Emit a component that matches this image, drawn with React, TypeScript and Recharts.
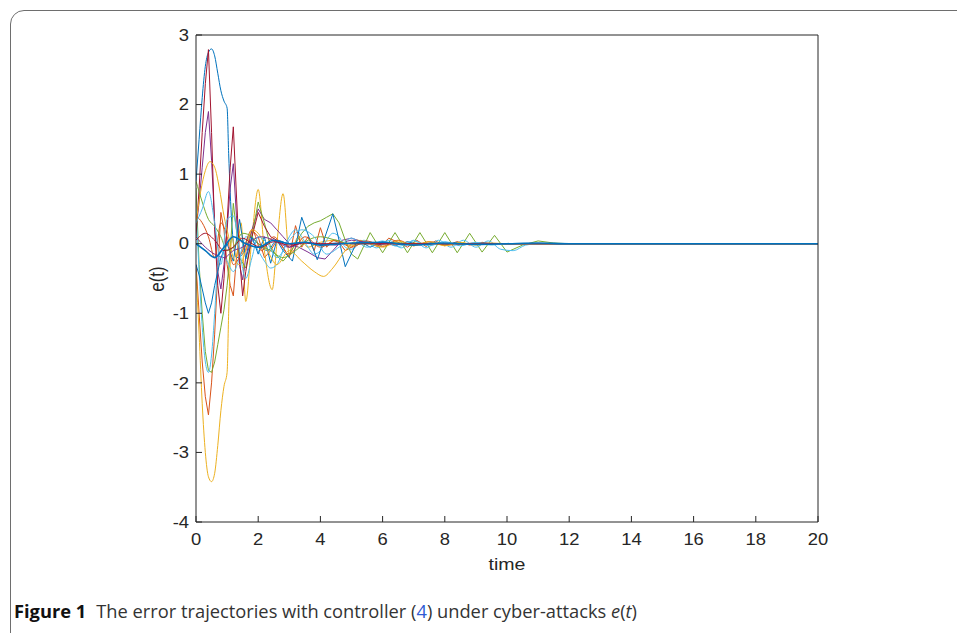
import { LineChart, Line, XAxis, YAxis } from "recharts";

// MATLAB default colour order
const BLUE = "#0072BD";
const ORANGE = "#D95319";
const YELLOW = "#EDB120";
const PURPLE = "#7E2F8E";
const GREEN = "#77AC30";
const CYAN = "#4DBEEE";
const DARKRED = "#A2142F";

const xTicks = [0, 2, 4, 6, 8, 10, 12, 14, 16, 18, 20];
const yTicks = [-4, -3, -2, -1, 0, 1, 2, 3];

// one time array and one value array per trajectory
const t1 = [0, 0.1, 0.2, 0.3, 0.4, 0.5, 0.6, 0.7, 0.8, 0.9, 1.0, 1.05, 1.15, 1.3, 1.5, 1.7, 2.0, 2.3, 2.6, 3.0, 3.5, 4.0, 4.5, 5.0, 6.0, 8.0, 20];
const v1 = [0.9, 1.5, 2.1, 2.55, 2.75, 2.8, 2.7, 2.45, 2.2, 2.05, 1.95, 1.3, 0.3, -0.2, -0.15, 0.1, 0.0, -0.1, 0.05, 0.0, 0.02, -0.02, 0.01, 0, 0, 0, 0];

const t2 = [0, 0.1, 0.2, 0.3, 0.4, 0.5, 0.6, 0.7, 0.8, 0.9, 1.0, 1.1, 1.2, 1.3, 1.4, 1.6, 1.8, 2.0, 2.2, 2.4, 2.6, 2.8, 3.0, 3.2, 3.4, 3.6, 3.8, 4.0, 4.2, 4.4, 4.6, 4.8, 5.0, 5.3, 5.6, 5.9, 6.2, 6.5, 6.8, 7.1, 7.4, 7.7, 8.0, 8.4, 8.8, 9.2, 9.6, 10, 11, 12, 20];
const v2 = [-0.3, -1.0, -1.7, -2.2, -2.46, -2.0, -1.3, -0.4, 0.45, 0.2, -0.3, -0.6, -0.75, -0.2, 0.1, -0.1, 0.2, 0.1, -0.2, -0.1, 0.05, -0.05, -0.2, 0.26, -0.05, 0.1, -0.1, 0.23, -0.05, 0.05, 0.02, -0.1, -0.05, 0.05, 0.0, -0.05, 0.08, 0.02, -0.05, 0.05, -0.04, 0.04, -0.03, 0.03, -0.02, 0.02, -0.01, 0, 0, 0, 0];

const t3 = [0, 0.1, 0.2, 0.3, 0.4, 0.5, 0.6, 0.7, 0.8, 0.9, 1.0, 1.05, 1.15, 1.3, 1.45, 1.6, 1.8, 2.0, 2.2, 2.45, 2.6, 2.8, 3.0, 3.3, 3.6, 4.0, 4.5, 5.0, 5.5, 6.0, 7.0, 8.0, 10, 20];
const v3 = [-0.4, -1.3, -2.3, -3.0, -3.35, -3.42, -3.3, -2.9, -2.4, -2.05, -1.85, -1.0, 0.1, -0.2, 0.3, -0.83, 0.1, 0.78, -0.1, -0.66, 0.0, 0.72, -0.15, 0.1, -0.05, 0.02, 0.05, -0.03, 0.02, -0.02, 0.01, 0, 0, 0];

const t4 = [0, 0.1, 0.2, 0.3, 0.4, 0.5, 0.6, 0.7, 0.8, 0.9, 1.0, 1.1, 1.2, 1.3, 1.4, 1.5, 1.6, 1.8, 2.0, 2.2, 2.4, 2.6, 2.8, 3.0, 3.3, 3.6, 3.9, 4.15, 4.4, 4.7, 5.0, 5.4, 5.8, 6.2, 7, 8, 9, 10, 12, 20];
const v4 = [0.2, 0.6, 1.1, 1.6, 1.9, 1.2, 0.3, -0.4, -0.65, -0.3, 0.2, 0.8, 1.15, 0.4, -0.3, -0.52, -0.2, 0.2, 0.5, 0.35, 0.3, 0.2, 0.1, 0.0, -0.05, -0.12, -0.2, -0.22, -0.1, 0.05, 0.08, 0.02, -0.02, 0.01, 0, 0, 0, 0, 0, 0];

const t5 = [0, 0.1, 0.2, 0.3, 0.4, 0.5, 0.6, 0.7, 0.8, 0.9, 1.0, 1.1, 1.2, 1.3, 1.4, 1.6, 1.8, 2.0, 2.2, 2.4, 2.6, 2.8, 3.0, 3.2, 3.4, 3.6, 3.8, 4.0, 4.2, 4.4, 4.6, 4.8, 5.0, 5.2, 5.6, 6.0, 6.4, 6.8, 7.2, 7.6, 8.0, 8.4, 8.8, 9.2, 9.6, 10.0, 10.5, 11.0, 11.5, 12, 13, 20];
const v5 = [0.8, -0.3, -1.0, -1.55, -1.82, -1.85, -1.7, -1.45, -1.2, -0.95, -0.6, -0.1, 0.58, 0.2, -0.2, -0.35, 0.1, 0.6, 0.3, -0.05, -0.18, -0.25, -0.15, 0.0, 0.15, 0.25, 0.3, 0.33, 0.38, 0.43, 0.3, 0.05, -0.15, -0.22, 0.16, -0.13, 0.16, -0.13, 0.16, -0.13, 0.16, -0.13, 0.15, -0.12, 0.12, -0.12, -0.02, 0.04, 0.01, 0, 0, 0];

const t6 = [0, 0.1, 0.2, 0.3, 0.4, 0.5, 0.6, 0.7, 0.8, 1.0, 1.2, 1.4, 1.6, 1.8, 2.0, 2.2, 2.4, 2.6, 2.8, 3.0, 3.2, 3.4, 3.6, 3.8, 4.0, 4.2, 4.4, 4.6, 4.8, 5.0, 5.4, 5.8, 6.2, 6.6, 7.0, 7.4, 7.8, 8.2, 8.6, 9.0, 9.4, 9.8, 10.2, 10.6, 11, 12, 20];
const v6 = [0.5, -0.4, -1.2, -1.7, -1.85, -1.6, -1.0, -0.3, -0.1, -0.25, -0.4, -0.2, 0.1, 0.05, -0.1, -0.25, -0.35, -0.3, -0.1, 0.1, 0.2, 0.1, -0.05, -0.15, -0.1, 0.05, 0.15, 0.1, -0.05, -0.08, 0.05, -0.06, 0.05, -0.06, 0.05, -0.06, 0.05, -0.05, 0.05, -0.05, 0.04, -0.08, -0.1, -0.02, 0.0, 0, 0];

const t7 = [0, 0.1, 0.2, 0.3, 0.4, 0.5, 0.6, 0.7, 0.8, 0.9, 1.0, 1.1, 1.2, 1.3, 1.4, 1.5, 1.6, 1.8, 2.0, 2.2, 2.4, 2.6, 2.8, 3.0, 3.4, 3.8, 4.2, 4.6, 5.0, 5.5, 6, 7, 8, 9, 10, 12, 20];
const v7 = [0.1, 0.8, 1.6, 2.3, 2.79, 1.6, 0.2, -0.6, -1.0, -0.5, 0.3, 1.1, 1.68, 0.7, -0.2, -0.75, -0.4, 0.1, 0.45, 0.25, 0.1, 0.05, 0.0, -0.05, 0.02, 0.0, -0.02, 0.01, 0, 0, 0, 0, 0, 0, 0, 0, 0];

const t8 = [0, 0.1, 0.2, 0.3, 0.4, 0.5, 0.6, 0.7, 0.8, 1.0, 1.2, 1.4, 1.6, 1.8, 2.0, 2.2, 2.4, 2.6, 2.8, 3.1, 3.4, 3.9, 4.4, 4.8, 5.2, 5.6, 6.0, 6.4, 6.8, 7.2, 7.6, 8, 8.4, 8.8, 9.2, 9.6, 10, 10.5, 11, 12, 20];
const v8 = [-0.3, -0.45, -0.65, -0.85, -1.0, -0.85, -0.6, -0.4, -0.2, 0.0, -0.25, 0.35, -0.22, 0.1, -0.15, 0.1, -0.28, 0.05, -0.1, -0.25, 0.38, -0.23, 0.43, -0.33, 0.05, -0.05, 0.03, -0.03, 0.03, -0.02, 0.02, -0.02, 0.02, -0.01, 0.01, 0, 0, 0, 0, 0, 0];

const t9 = [0, 0.2, 0.4, 0.6, 0.8, 1.0, 1.2, 1.5, 1.8, 2.1, 2.5, 3, 3.5, 4, 4.5, 5, 5.5, 6, 6.5, 7, 7.5, 8, 9, 10, 12, 20];
const v9 = [0.4, 0.3, 0.1, -0.2, 0.3, 0.1, -0.3, -0.1, 0.2, -0.1, 0.1, -0.15, 0.1, -0.05, 0.05, -0.05, 0.04, -0.04, 0.05, -0.03, 0.03, -0.02, 0.01, 0, 0, 0];

const t10 = [0, 0.15, 0.3, 0.45, 0.6, 0.75, 0.9, 1.05, 1.2, 1.4, 1.6, 1.8, 2.0, 2.3, 2.6, 3.0, 3.4, 3.8, 4.1, 4.4, 4.8, 5.2, 5.6, 6, 6.5, 7, 7.5, 8, 8.5, 9, 9.5, 10, 11, 12, 20];
const v10 = [0.3, 0.75, 1.05, 1.18, 1.1, 0.8, 0.4, 0.1, -0.2, -0.3, -0.1, 0.2, 0.15, -0.1, -0.3, -0.1, -0.25, -0.4, -0.47, -0.35, -0.1, 0.05, 0.0, -0.05, 0.04, -0.03, 0.03, -0.03, 0.02, -0.02, 0.01, 0, 0, 0, 0];

const t11 = [0, 0.3, 0.6, 0.9, 1.2, 1.5, 1.8, 2.1, 2.5, 3, 3.5, 4, 4.5, 5, 5.5, 6, 7, 8, 10, 20];
const v11 = [0.1, -0.05, -0.15, -0.2, -0.1, -0.05, 0.05, 0.1, 0.05, -0.05, 0.02, 0.0, -0.02, 0.05, 0.02, 0, 0, 0, 0, 0];

const t12 = [0, 0.2, 0.4, 0.6, 0.8, 1.0, 1.2, 1.5, 1.8, 2.0, 2.4, 2.8, 3.2, 3.6, 4, 4.5, 5, 5.5, 6, 7, 8, 10, 20];
const v12 = [0.9, 0.6, 0.35, 0.25, 0.1, -0.1, -0.05, 0.15, 0.1, 0.0, -0.1, -0.2, -0.1, 0.05, 0.1, 0.05, 0.0, 0.0, 0.02, 0, 0, 0, 0];

const t13 = [0, 0.2, 0.4, 0.6, 0.8, 1.0, 1.2, 1.4, 1.6, 1.8, 2.0, 2.3, 2.6, 3.0, 3.4, 3.8, 4.2, 4.6, 5.0, 5.5, 6, 6.5, 7, 7.5, 8, 8.5, 9, 9.5, 10, 11, 12, 20];
const v13 = [0.3, 0.5, 0.75, 0.3, -0.3, 0.35, 0.4, -0.1, -0.5, -0.2, 0.1, 0.0, -0.2, 0.05, 0.2, 0.1, -0.15, -0.05, 0.08, -0.05, 0.04, -0.04, 0.04, -0.03, 0.03, -0.03, 0.02, -0.02, 0.0, 0, 0, 0];

const t14 = [0, 0.3, 0.6, 0.9, 1.2, 1.5, 1.8, 2.1, 2.5, 3, 3.5, 4, 4.5, 5, 6, 8, 10, 20];
const v14 = [0.05, 0.15, 0.05, -0.1, -0.05, 0.08, 0.0, -0.05, 0.03, -0.02, 0.01, 0, 0, 0, 0, 0, 0, 0];

const t15 = [0, 0.3, 0.6, 0.9, 1.2, 1.6, 2.0, 2.5, 3, 3.5, 4, 5, 6, 7, 8, 9, 10, 11, 12, 20];
const v15 = [0.0, -0.1, -0.2, -0.05, 0.1, 0.0, -0.05, 0.05, 0.0, 0.02, -0.02, 0.01, 0.02, -0.02, 0.01, -0.01, 0.0, 0.01, 0, 0];

const zip = (t: number[], v: number[]) => t.map((x, i) => ({ t: x, v: v[i] }));

const series = [
  { id: "e1", data: zip(t1, v1), color: BLUE, curve: "monotone" },
  { id: "e2", data: zip(t2, v2), color: ORANGE, curve: "linear" },
  { id: "e3", data: zip(t3, v3), color: YELLOW, curve: "monotone" },
  { id: "e4", data: zip(t4, v4), color: PURPLE, curve: "linear" },
  { id: "e5", data: zip(t5, v5), color: GREEN, curve: "linear" },
  { id: "e6", data: zip(t6, v6), color: CYAN, curve: "monotone" },
  { id: "e7", data: zip(t7, v7), color: DARKRED, curve: "linear" },
  { id: "e8", data: zip(t8, v8), color: BLUE, curve: "linear" },
  { id: "e9", data: zip(t9, v9), color: ORANGE, curve: "monotone" },
  { id: "e10", data: zip(t10, v10), color: YELLOW, curve: "monotone" },
  { id: "e11", data: zip(t11, v11), color: PURPLE, curve: "monotone" },
  { id: "e12", data: zip(t12, v12), color: GREEN, curve: "monotone" },
  { id: "e13", data: zip(t13, v13), color: CYAN, curve: "monotone" },
  { id: "e14", data: zip(t14, v14), color: DARKRED, curve: "monotone" },
];
// drawn last, on the box axes, so it sits on top like in the original
const lastSeries = zip(t15, v15);

const AXIS = "#262626";
const FONT = "'Liberation Sans', Arial, Helvetica, sans-serif";
const STRETCH = 1.15; // the figure is a bit wider than tall

const XTick = (props: any) => {
  const { x, y, payload } = props;
  return (
    <text
      transform={`translate(${x},${y}) scale(${STRETCH},1)`}
      textAnchor="middle"
      dy="0.71em"
      fill={AXIS}
      style={{ fontSize: 16, fontFamily: FONT }}
    >
      {payload.value}
    </text>
  );
};

const YTick = (props: any) => {
  const { x, y, payload } = props;
  return (
    <text
      transform={`translate(${x},${y}) scale(${STRETCH},1)`}
      textAnchor="end"
      dy="0.36em"
      fill={AXIS}
      style={{ fontSize: 16, fontFamily: FONT }}
    >
      {payload.value}
    </text>
  );
};

export default function App() {
  return (
    <div style={{ position: "absolute", left: 0, top: 0, width: 957, height: 633, overflow: "hidden", background: "#fff" }}>
      <div
        style={{
          position: "absolute",
          left: 10,
          top: 10,
          width: 1000,
          height: 700,
          border: "1.5px solid #6e6e6e",
          borderTopLeftRadius: 14,
          boxSizing: "border-box",
        }}
      />
      <div style={{ position: "absolute", left: 0, top: 0 }}>
        <LineChart width={957} height={633} margin={{ top: 34, right: 138, bottom: 81, left: 156 }}>
          <XAxis
            dataKey="t"
            type="number"
            domain={[0, 20]}
            ticks={xTicks}
            allowDataOverflow
            height={30}
            stroke={AXIS}
            tickSize={-6}
            tickMargin={18}
            tick={<XTick />}
          />
          <XAxis
            xAxisId="top"
            orientation="top"
            dataKey="t"
            type="number"
            domain={[0, 20]}
            ticks={xTicks}
            allowDataOverflow
            height={1}
            stroke={AXIS}
            tickSize={-6}
            tick={false}
          />
          <YAxis
            type="number"
            domain={[-4, 3]}
            ticks={yTicks}
            allowDataOverflow
            width={40}
            stroke={AXIS}
            tickSize={-6}
            tickMargin={13}
            tick={<YTick />}
          />
          <YAxis
            yAxisId="right"
            orientation="right"
            type="number"
            domain={[-4, 3]}
            ticks={yTicks}
            allowDataOverflow
            width={1}
            stroke={AXIS}
            tickSize={-6}
            tick={false}
          />
          {series.map((s) => (
            <Line
              key={s.id}
              data={s.data}
              dataKey="v"
              type={s.curve as any}
              stroke={s.color}
              strokeWidth={1}
              dot={false}
              activeDot={false}
              isAnimationActive={false}
            />
          ))}
          <Line
            xAxisId="top"
            yAxisId="right"
            data={lastSeries}
            dataKey="v"
            type="monotone"
            stroke={BLUE}
            strokeWidth={1.6}
            dot={false}
            activeDot={false}
            isAnimationActive={false}
          />
        </LineChart>
      </div>
      <div
        style={{
          position: "absolute",
          left: 158,
          top: 279,
          transform: "translate(-50%, -50%) rotate(-90deg) scaleY(1.15)",
          fontFamily: FONT,
          fontSize: 17,
          color: AXIS,
          whiteSpace: "nowrap",
        }}
      >
        e(t)
      </div>
      <div
        style={{
          position: "absolute",
          left: 507,
          top: 565,
          transform: "translate(-50%, -50%) scaleX(1.15)",
          fontFamily: FONT,
          fontSize: 17,
          color: AXIS,
        }}
      >
        time
      </div>
      <div
        style={{
          position: "absolute",
          left: 14,
          top: 598,
          fontFamily: "'Open Sans', 'Noto Sans', sans-serif",
          fontSize: 18.3,
          color: "#333",
          whiteSpace: "nowrap",
        }}
      >
        <span style={{ fontWeight: 700, color: "#111" }}>Figure 1</span>
        <span style={{ marginLeft: 10 }}>
          The error trajectories with controller (<span style={{ color: "#2f5bd3" }}>4</span>) under cyber-attacks{" "}
          <i>e</i>(<i>t</i>)
        </span>
      </div>
    </div>
  );
}
